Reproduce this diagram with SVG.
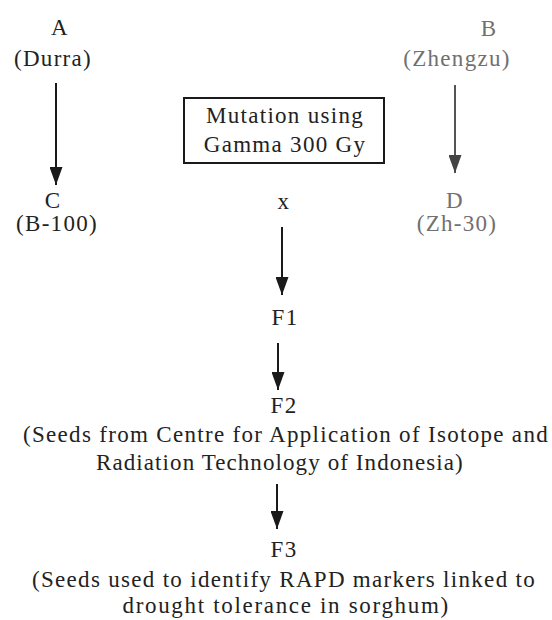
<svg xmlns="http://www.w3.org/2000/svg" width="552" height="620" viewBox="0 0 552 620">
  <style>
    text { font-family: "Liberation Serif", "Times New Roman", serif; font-size: 23px; fill: #222; text-anchor: middle; letter-spacing: 1.3px; }
    .gray { fill: #707070; }
    .conn { stroke: #1a1a1a; stroke-width: 2; fill: none; }
    .conn.g { stroke: #555; }
    .box { fill: #fff; stroke: #1a1a1a; stroke-width: 2; }
  </style>
  <defs>
    <marker id="ah" markerWidth="18" markerHeight="13" refX="18" refY="6.5" orient="auto" markerUnits="userSpaceOnUse" viewBox="0 0 18 13">
      <path d="M0,0 L18,6.5 L0,13 Z" fill="#1a1a1a"/>
    </marker>
    <marker id="ahg" markerWidth="18" markerHeight="13" refX="18" refY="6.5" orient="auto" markerUnits="userSpaceOnUse" viewBox="0 0 18 13">
      <path d="M0,0 L18,6.5 L0,13 Z" fill="#444"/>
    </marker>
  </defs>
  <rect width="552" height="620" fill="#fff"/>

  <g id="connectors">
    <line class="conn" x1="56" y1="83" x2="56" y2="185" marker-end="url(#ah)"/>
    <line class="conn g" x1="455" y1="85" x2="455" y2="173" marker-end="url(#ahg)"/>
    <line class="conn" x1="282" y1="227" x2="282" y2="295" marker-end="url(#ah)"/>
    <line class="conn" x1="278" y1="343" x2="278" y2="390" marker-end="url(#ah)"/>
    <line class="conn" x1="277" y1="484" x2="277" y2="529" marker-end="url(#ah)"/>
  </g>

  <g id="nodeA">
    <text x="60" y="35">A</text>
    <text x="53" y="66">(Durra)</text>
  </g>
  <g id="nodeB">
    <text class="gray" x="489" y="36">B</text>
    <text class="gray" x="457" y="66">(Zhengzu)</text>
  </g>
  <g id="mutation">
    <rect class="box" x="184" y="98" width="200" height="65"/>
    <text x="285" y="123">Mutation using</text>
    <text x="285" y="152">Gamma 300 Gy</text>
  </g>
  <g id="nodeC">
    <text x="53" y="208">C</text>
    <text x="57" y="231">(B-100)</text>
  </g>
  <g id="nodeD">
    <text class="gray" x="455" y="208">D</text>
    <text class="gray" x="457" y="231">(Zh-30)</text>
  </g>
  <g id="cross">
    <text x="284" y="209">x</text>
  </g>
  <g id="F1">
    <text x="285" y="325">F1</text>
  </g>
  <g id="F2">
    <text x="284" y="413">F2</text>
    <text x="286" y="442" textLength="526" lengthAdjust="spacing">(Seeds from Centre for Application of Isotope and</text>
    <text x="280" y="470" textLength="368" lengthAdjust="spacing">Radiation Technology of Indonesia)</text>
  </g>
  <g id="F3">
    <text x="284" y="557">F3</text>
    <text x="284" y="587" textLength="504" lengthAdjust="spacing">(Seeds used to identify RAPD markers linked to</text>
    <text x="286" y="613" textLength="327" lengthAdjust="spacing">drought tolerance in sorghum)</text>
  </g>
</svg>
